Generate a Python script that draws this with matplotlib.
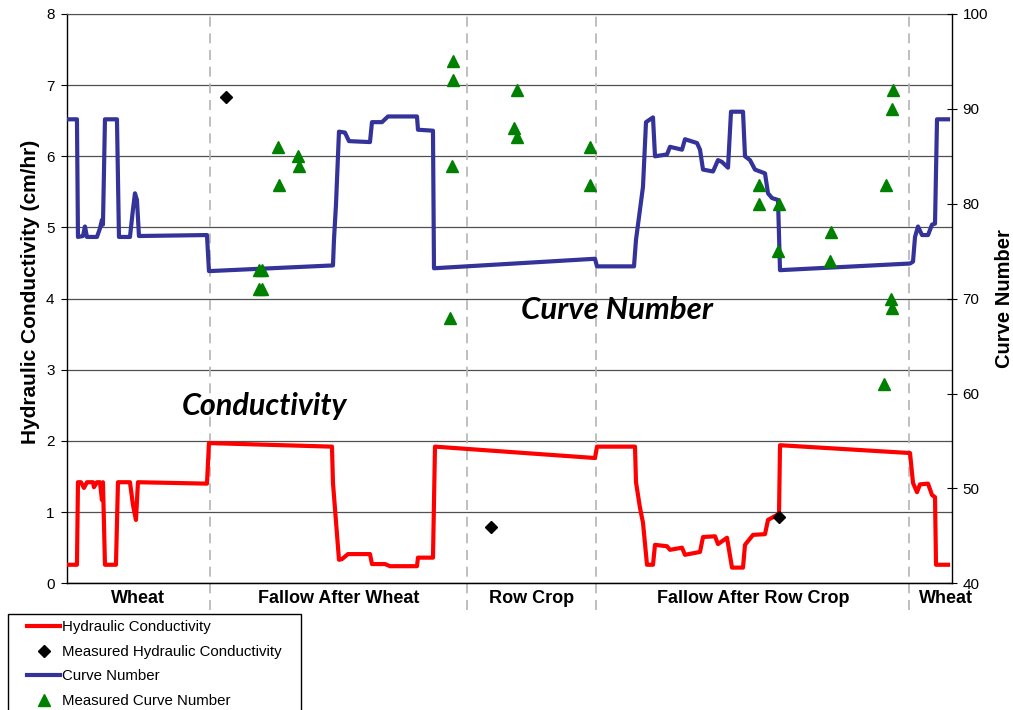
import numpy as np
import matplotlib
matplotlib.use("Agg")
import matplotlib.pyplot as plt
from matplotlib.lines import Line2D
from matplotlib.patches import Rectangle
from matplotlib.transforms import blended_transform_factory

plt.rcParams['font.family'] = ['Liberation Sans', 'DejaVu Sans']

# hydraulic conductivity (cm/hr), simulated
k_x = [0, 10, 11, 14, 17, 20, 26, 27, 30, 33, 35, 36, 38, 49, 51, 63, 66, 69, 71, 140, 142,
       265, 266, 272, 275, 281, 303, 305, 318, 323, 350, 351, 366, 368, 528, 530, 568, 569,
       573, 576, 580, 586, 588, 600, 603, 615, 618, 633, 636, 648, 651, 660, 665, 676, 678,
       686, 698, 701, 710, 712, 713, 843, 846, 850, 853, 861, 865, 868, 869, 881]
k_y = [0.26, 0.26, 1.42, 1.42, 1.34, 1.42, 1.42, 1.35, 1.42, 1.42, 1.17, 1.42, 0.26, 0.26,
       1.42, 1.42, 1.10, 0.89, 1.42, 1.40, 1.97,
       1.92, 1.41, 0.33, 0.34, 0.41, 0.41, 0.27, 0.27, 0.24, 0.24, 0.36, 0.36, 1.92, 1.76,
       1.92, 1.92, 1.42, 1.06, 0.85, 0.26, 0.26, 0.54, 0.52, 0.47, 0.50, 0.40, 0.44, 0.65,
       0.66, 0.55, 0.64, 0.22, 0.22, 0.54, 0.68, 0.69, 0.89, 0.96, 0.96, 1.94, 1.83, 1.41,
       1.28, 1.39, 1.40, 1.24, 1.21, 0.26, 0.26]

# measured hydraulic conductivity
mk_x = [159, 424, 712]
mk_y = [6.83, 0.79, 0.93]

# curve number, simulated
cn_x = [0, 10, 11, 16, 18, 20, 30, 33, 35, 36, 38, 50, 52, 63, 66, 68, 70, 72, 140, 142,
        266, 267, 269, 272, 278, 282, 303, 305, 315, 321, 350, 351, 366, 367, 528, 530,
        567, 569, 573, 576, 579, 586, 588, 600, 603, 615, 618, 630, 633, 636, 646, 651,
        655, 661, 664, 676, 678, 683, 688, 698, 701, 705, 711, 713, 843, 846, 848, 851,
        855, 861, 865, 868, 870, 881]
cn_y = [88.9, 88.9, 76.5, 76.6, 77.6, 76.5, 76.5, 77.4, 78.3, 77.8, 88.9, 88.9, 76.5, 76.5,
        79.4, 81.1, 80.4, 76.6, 76.7, 72.9,
        73.5, 76.2, 79.9, 87.6, 87.5, 86.6, 86.5, 88.6, 88.6, 89.2, 89.2, 87.8, 87.7, 73.2,
        74.2, 73.4, 73.4, 76.2, 79.4, 81.8, 88.6, 89.1, 85.0, 85.2, 86.0, 85.7, 86.8, 86.4,
        85.7, 83.6, 83.4, 84.6, 84.4, 83.8, 89.7, 89.7, 85.0, 84.6, 83.6, 83.2, 81.1, 80.6,
        80.4, 73.0, 73.7, 73.9, 76.5, 77.6, 76.7, 76.7, 77.8, 77.9, 88.9, 88.9]

# measured curve number
mcn_x = [192, 195, 192, 195, 211, 212, 231, 232, 386, 386, 385, 383, 450, 447, 450, 523,
         523, 692, 692, 712, 711, 764, 763, 819, 826, 825, 824, 825, 817]
mcn_y = [73, 73, 71, 71, 86, 82, 85, 84, 95, 93, 84, 68, 92, 88, 87, 86,
         82, 82, 80, 80, 75, 77, 74, 82, 92, 90, 70, 69, 61]

# crop periods
sep_x = [143, 400, 529, 842]
period_names = ["Wheat", "Fallow After Wheat", "Row Crop", "Fallow After Row Crop", "Wheat"]
period_pos = [71, 272, 465, 686, 879]

fig = plt.figure(figsize=(10.13, 7.10), dpi=100)
ax = fig.add_axes([0.0661, 0.1785, 0.8737, 0.8018])
ax2 = ax.twinx()

ax.set_xlim(0, 885)
ax.set_ylim(0, 8)
ax2.set_ylim(40, 100)
ax.set_xticks([])
ax.set_yticks(range(0, 9))
ax2.set_yticks(range(40, 101, 10))

ax.yaxis.grid(True, color='#505050', lw=0.9)
ax.set_axisbelow(True)
ax.spines['top'].set_color('#505050')
ax2.spines['top'].set_visible(False)
ax.spines['right'].set_visible(False)
ax2.spines['left'].set_visible(False)
ax2.spines['right'].set_linewidth(1.0)
ax.spines['left'].set_linewidth(1.0)
ax.spines['bottom'].set_linewidth(1.0)

ax.tick_params(axis='y', direction='out', length=4, labelsize=11, pad=5)
ax2.tick_params(axis='y', direction='inout', length=7, labelsize=11, pad=4)

trans = blended_transform_factory(ax.transData, ax.transAxes)
for sx in sep_x:
    ax.plot([sx, sx], [-0.047, 1], transform=trans, color='#b4b4b4', lw=1.2,
            dashes=(6, 4), clip_on=False, zorder=1)
for name, px in zip(period_names, period_pos):
    ax.text(px, -0.027, name, transform=trans, ha='center', va='center',
            fontsize=13, fontweight='bold')

ax.plot(k_x, k_y, color='#ff0000', lw=3, solid_joinstyle='round', zorder=3)
ax.plot(mk_x, mk_y, 'D', color='black', markersize=6.5, zorder=4)
ax2.plot(cn_x, cn_y, color='#333399', lw=3, solid_joinstyle='round', zorder=3)
ax2.plot(mcn_x, mcn_y, '^', color='#008000', markersize=8, zorder=4)

ax.set_ylabel("Hydraulic Conductivity (cm/hr)", fontsize=15, fontweight='bold')
ax.yaxis.set_label_coords(-0.0305, 0.512)
ax2.set_ylabel("Curve Number", fontsize=14.5, fontweight='bold', rotation=90)
ax2.yaxis.set_label_coords(1.0486, 0.5)

ax.text(550, 3.84, "Curve Number", ha='center', va='center', fontsize=22.5,
        fontweight='bold', fontstyle='italic', family=['Lato', 'DejaVu Sans'])
ax.text(198, 2.49, "Conductivity", ha='center', va='center', fontsize=22,
        fontweight='bold', fontstyle='italic', family=['Lato', 'DejaVu Sans'])

# legend box sits below the plot, running off the bottom edge
fig.patches.append(Rectangle((8 / 1013, -10 / 710), 293 / 1013, 106 / 710,
                             transform=fig.transFigure, fill=False,
                             edgecolor='black', lw=1.0))
handles = [
    Line2D([], [], color='#ff0000', lw=3),
    Line2D([], [], ls='none', marker='D', color='black', markersize=6.5),
    Line2D([], [], color='#333399', lw=3),
    Line2D([], [], ls='none', marker='^', color='#008000', markersize=8),
]
labels = ["Hydraulic Conductivity", "Measured Hydraulic Conductivity",
          "Curve Number", "Measured Curve Number"]
fig.legend(handles, labels, loc='upper left', bbox_to_anchor=(27 / 1013, 1 - 620.5 / 710),
           fontsize=10.8, frameon=False, handlelength=2.2, handletextpad=0.13,
           labelspacing=0.7, borderpad=0, borderaxespad=0)

fig.savefig("out.png", dpi=100)
